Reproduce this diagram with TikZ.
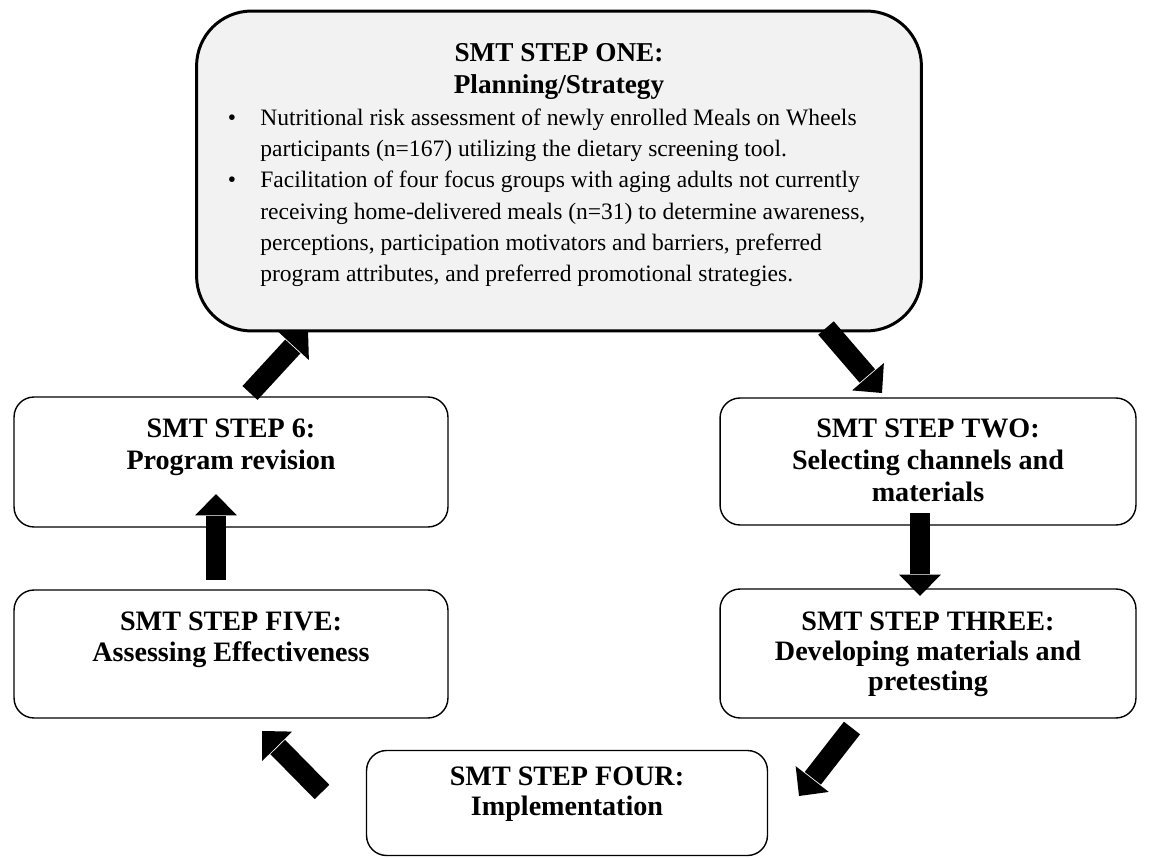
\documentclass[tikz,border=0pt]{standalone}
\usepackage{fontspec}
\setmainfont{Liberation Serif}
\usetikzlibrary{calc}
\tikzset{
  topbox/.style={draw, line width=1.7pt, fill=black!5, rounded corners=1.1cm, inner sep=0pt},
  stepbox/.style={draw, line width=0.8pt, rounded corners=0.4cm, inner sep=0pt},
  toptitle/.style={font=\fontsize{15.5}{17}\selectfont\bfseries, anchor=base, inner sep=0pt},
  steptext/.style={font=\fontsize{16}{18}\selectfont\bfseries, anchor=base, inner sep=0pt},
  bodytext/.style={font=\fontsize{13.4}{14}\selectfont, anchor=base west, inner sep=0pt},
  bullettext/.style={font=\fontsize{13.4}{14}\selectfont, anchor=base, inner sep=0pt},
  shaft/.style={line width=0.41cm},
}
\newcommand\blockarr[2]{%
  \coordinate (bB) at ($(#2)!0.43cm!(#1)$);
  \draw[shaft] (#1) -- ($(bB)!-0.02cm!(#2)$);
  \fill ($(bB)!0.42cm!90:(#2)$) -- (#2) -- ($(bB)!0.42cm!-90:(#2)$) -- cycle;
}
\begin{document}
\begin{tikzpicture}[x=0.02cm,y=-0.02cm]
\useasboundingbox (0,0) rectangle (1150,858);
% boxes
\node[topbox, minimum width=14.5cm, minimum height=6.4cm] (one) at (559,171) {};
\node[stepbox, minimum width=8.68cm, minimum height=2.6cm] (six) at (231,462) {};
\node[stepbox, minimum width=8.68cm, minimum height=2.56cm] (five) at (231,654) {};
\node[stepbox, minimum width=8.32cm, minimum height=2.54cm] (two) at (928,461.5) {};
\node[stepbox, minimum width=8.32cm, minimum height=2.58cm] (three) at (928,653.5) {};
\node[stepbox, minimum width=8.02cm, minimum height=2.1cm] (four) at (567,803) {};
% top box text
\node[toptitle] (t1a) at (559,62) {SMT STEP ONE:};
\node[toptitle] (t1b) at (559,94) {Planning/Strategy};
\node[bullettext] (bu1) at (232,126) {•};
\node[bodytext] (l1) at (260,126) {Nutritional risk assessment of newly enrolled Meals on Wheels};
\node[bodytext] (l2) at (260,157) {participants (n=167) utilizing the dietary screening tool.};
\node[bullettext] (bu2) at (232,188) {•};
\node[bodytext] (l3) at (260,188) {Facilitation of four focus groups with aging adults not currently};
\node[bodytext] (l4) at (260,220) {receiving home-delivered meals (n=31) to determine awareness,};
\node[bodytext] (l5) at (260,251) {perceptions, participation motivators and barriers, preferred};
\node[bodytext] (l6) at (260,282) {program attributes, and preferred promotional strategies.};
% step texts
\node[steptext] (s6a) at (231,437) {SMT STEP 6:};
\node[steptext] (s6b) at (231,469) {Program revision};
\node[steptext] (s5a) at (231,630) {SMT STEP FIVE:};
\node[steptext] (s5b) at (231,661) {Assessing Effectiveness};
\node[steptext] (s2a) at (928,438) {SMT STEP TWO:};
\node[steptext] (s2b) at (928,469) {Selecting channels and};
\node[steptext] (s2c) at (928,501) {materials};
\node[steptext] (s3a) at (928,630) {SMT STEP THREE:};
\node[steptext] (s3b) at (928,660) {Developing materials and};
\node[steptext] (s3c) at (928,690) {pretesting};
\node[steptext] (s4a) at (567,785) {SMT STEP FOUR:};
\node[steptext] (s4b) at (567,815) {Implementation};
% arrows
\coordinate (a1t) at (250,393); \coordinate (a1h) at (308,330);
\coordinate (a2t) at (826,328); \coordinate (a2h) at (882,393);
\coordinate (a3t) at (920,513); \coordinate (a3h) at (920,596);
\coordinate (a4t) at (852,728); \coordinate (a4h) at (799,796);
\coordinate (a5t) at (322,792); \coordinate (a5h) at (262,731);
\coordinate (a6t) at (216,580); \coordinate (a6h) at (216,494);
\blockarr{a1t}{a1h}
\blockarr{a2t}{a2h}
\blockarr{a3t}{a3h}
\blockarr{a4t}{a4h}
\blockarr{a5t}{a5h}
\blockarr{a6t}{a6h}
\end{tikzpicture}
\end{document}
